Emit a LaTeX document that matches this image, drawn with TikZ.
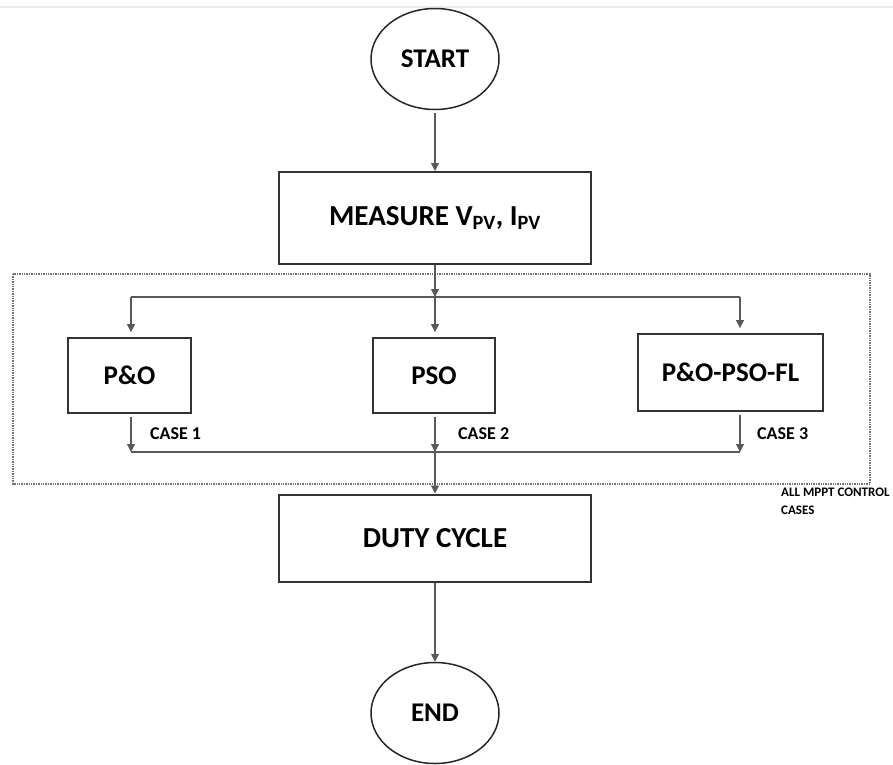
\documentclass[tikz,border=0pt]{standalone}
\usepackage{fontspec}
\setmainfont{Carlito}
\usetikzlibrary{positioning,arrows.meta,shapes.geometric,calc}
\tikzset{
  term/.style={ellipse, draw=black!85, line width=1.5pt, minimum width=128pt,
    minimum height=101pt, inner sep=0pt, font=\fontsize{27}{30}\selectfont\bfseries},
  procbox/.style={rectangle, draw=black!80, line width=2pt, inner sep=0pt,
    minimum width=312pt, font=\fontsize{29}{32}\selectfont\bfseries},
  algbox/.style={procbox, line width=1.8pt, font=\fontsize{27}{30}\selectfont\bfseries},
  arr/.style={-{Triangle[length=8pt, width=8pt]}, line width=1.1pt, black!65},
  wire/.style={line width=1.1pt, black!65},
  caselab/.style={anchor=west, inner sep=0pt, font=\fontsize{18}{20}\selectfont\bfseries},
  grp/.style={draw=black!55, densely dotted, line width=1.4pt},
}
\begin{document}
\begin{tikzpicture}[x=1pt, y=-1pt]
    \useasboundingbox (0,0) rectangle (893,764);
    \draw[black!8, line width=1.5pt] (0,7) -- (893,7);
    % main column
    \node[term] (start) at (435,59) {START};
    \node[procbox, minimum height=92pt] (meas) at (435,218) {MEASURE V\textsubscript{PV}, I\textsubscript{PV}};
    \node[procbox, minimum height=87pt] (duty) at (435,538) {DUTY CYCLE};
    \node[term] (end) at (435,713) {END};
    % the three control cases
    \draw[grp] (13,274) rectangle (870,484);
    \node[algbox, minimum width=123pt, minimum height=75pt] (po) at (129.5,375.5) {P\&O};
    \node[algbox, minimum width=122pt, minimum height=75pt] (pso) at (434,375.5) {PSO};
    \node[algbox, minimum width=185pt, minimum height=77pt] (hyb) at (730.5,372.5) {P\&O-PSO-FL};
    \node[caselab] (c1) at (150,434) {CASE 1};
    \node[caselab] (c2) at (458,434) {CASE 2};
    \node[caselab] (c3) at (757,434) {CASE 3};
    \node[anchor=north west, align=left, inner sep=0pt,
      font=\fontsize{13}{18}\selectfont\bfseries] (grplab) at (781,488) {ALL MPPT CONTROL\\CASES};
    \coordinate (split) at (435,297);
    \coordinate (splitL) at (131,297);
    \coordinate (splitR) at (740,297);
    \coordinate (merge) at (435,452);
    \coordinate (mergeL) at (131,452);
    \coordinate (mergeR) at (740,452);
    % connectors
    \draw[arr, shorten <=3pt] (start) -- (meas);
    \draw[arr] (meas) -- (split);
    \draw[wire] (splitL) -- (splitR);
    \draw[arr, shorten >=5pt] (splitL) -- (splitL |- po.north);
    \draw[arr, shorten >=5pt] (split) -- (split |- pso.north);
    \draw[arr, shorten >=5pt] (splitR) -- (splitR |- hyb.north);
    \draw[arr, shorten <=3pt] (po.south -| mergeL) -- (mergeL);
    \draw[arr, shorten <=3pt] (pso.south -| merge) -- (merge);
    \draw[arr, shorten <=3pt] (hyb.south -| mergeR) -- (mergeR);
    \draw[wire] (mergeL) -- (mergeR);
    \draw[arr] (merge) -- (duty);
    \draw[arr] (duty) -- (end);
\end{tikzpicture}
\end{document}
